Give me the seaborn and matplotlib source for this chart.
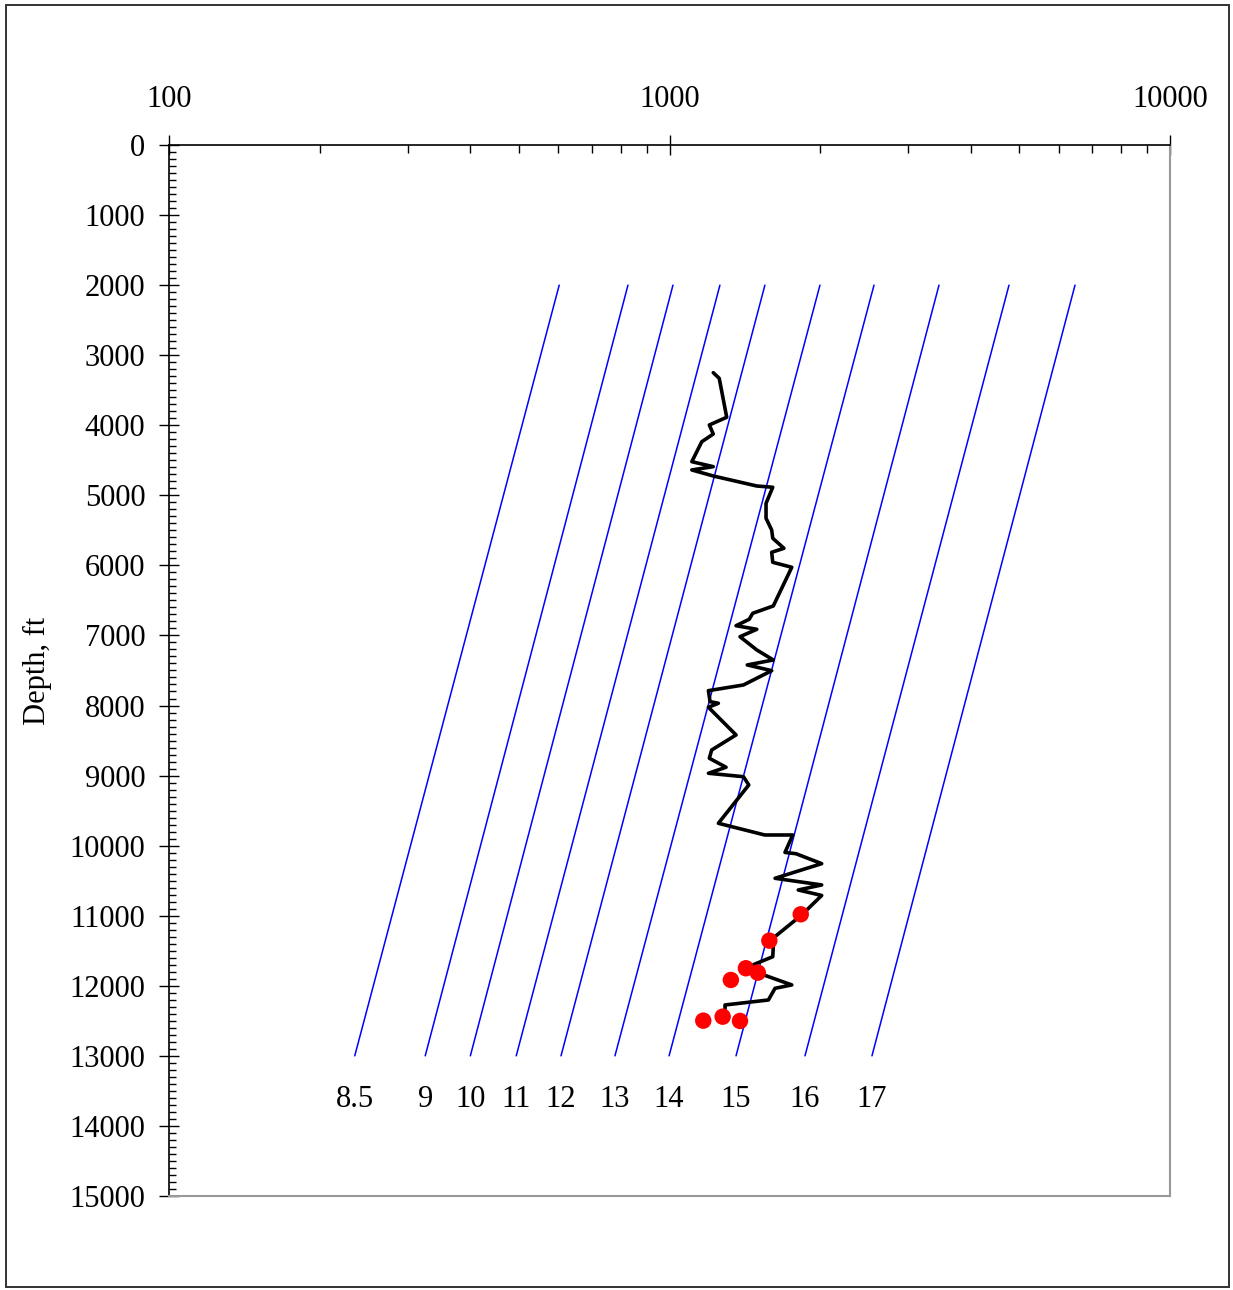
import numpy as np
import pandas as pd
import seaborn as sns
import matplotlib.pyplot as plt
from matplotlib.patches import Rectangle
from matplotlib.ticker import LogLocator, MultipleLocator, NullFormatter

# Log curve (value vs depth)
curve_value = [1223, 1257, 1301, 1201, 1223, 1160, 1108, 1223, 1108, 1223,
               1494, 1608, 1559, 1559, 1600, 1608, 1693, 1600, 1608, 1755,
               1612, 1466, 1443, 1358, 1494, 1383, 1494, 1612, 1430, 1600,
               1405, 1196, 1205, 1252, 1196, 1358, 1214, 1201, 1297, 1196,
               1405, 1440, 1252, 1550, 1763, 1701, 1789, 2014, 1625, 2014,
               1808, 2014, 1837, 1588, 1612, 1608, 1494, 1415, 1755, 1625,
               1576, 1291, 1291]
curve_depth = [3250, 3330, 3886, 3996, 4125, 4235, 4520, 4591, 4638, 4724,
               4867, 4885, 5114, 5328, 5495, 5613, 5756, 5813, 5956, 6027,
               6579, 6684, 6769, 6861, 6912, 7018, 7207, 7350, 7421, 7503,
               7707, 7788, 7945, 7968, 8025, 8420, 8635, 8753, 8881, 8967,
               9016, 9134, 9681, 9848, 9848, 10097, 10115, 10257, 10466, 10561,
               10633, 10711, 10989, 11356, 11442, 11585, 11679, 11750, 11988, 12036,
               12203, 12274, 12335]

# Measured points
pt_value = [1829, 1583, 1421, 1501, 1326, 1168, 1277, 1383]
pt_depth = [10980, 11356, 11750, 11813, 11917, 12498, 12441, 12502]

# Mud weight trend lines (value at 13000 ft and at 2000 ft)
mw_labels = ['8.5', '9', '10', '11', '12', '13', '14', '15', '16', '17']
mw_bottom = [235, 325, 400, 494, 607, 778, 998, 1358, 1865, 2538]
mw_top = [602, 826, 1016, 1261, 1551, 1998, 2562, 3455, 4768, 6460]
mw_depth_top = 2000
mw_depth_bottom = 13000
label_depth = 13620

curve_df = pd.DataFrame({'value': curve_value, 'depth': curve_depth})
pts_df = pd.DataFrame({'value': pt_value, 'depth': pt_depth})
mw_df = pd.DataFrame({
    'value': mw_top + mw_bottom,
    'depth': [mw_depth_top] * len(mw_top) + [mw_depth_bottom] * len(mw_bottom),
    'mw': mw_labels + mw_labels,
})

sns.set_theme(style='white')
plt.rcParams['font.family'] = ['Liberation Serif', 'DejaVu Serif']
plt.rcParams['font.size'] = 22
plt.rcParams['text.color'] = 'black'
plt.rcParams['axes.labelcolor'] = 'black'
plt.rcParams['xtick.color'] = 'black'
plt.rcParams['ytick.color'] = 'black'

fig = plt.figure(figsize=(12.33, 12.9), dpi=100)
ax = fig.add_axes([0.1371, 0.0729, 0.8118, 0.8147])
ax.set_xscale('log')

sns.lineplot(data=mw_df, x='value', y='depth', units='mw', estimator=None,
             sort=False, color='#0000ff', lw=1.1, ax=ax)
sns.lineplot(data=curve_df, x='value', y='depth', estimator=None, sort=False,
             color='black', lw=2.6, ax=ax)
sns.scatterplot(data=pts_df, x='value', y='depth', color='#ff0000', s=140,
                edgecolor='none', zorder=5, ax=ax)

for lab, v in zip(mw_labels, mw_bottom):
    ax.text(v, label_depth, lab, ha='center', va='center', fontsize=22, color='black')

ax.set_xlim(100, 10000)
ax.set_ylim(15000, 0)
ax.xaxis.tick_top()
ax.set_xticks([100, 1000, 10000])
ax.set_xticklabels(['100', '1000', '10000'])
ax.xaxis.set_minor_locator(LogLocator(base=10, subs=range(2, 10)))
ax.xaxis.set_minor_formatter(NullFormatter())
ax.yaxis.set_major_locator(MultipleLocator(1000))
ax.yaxis.set_minor_locator(MultipleLocator(100))
ax.set_yticklabels([str(int(t)) for t in ax.get_yticks()])

ax.tick_params(axis='x', which='major', direction='inout', length=14, width=1,
               color='black', labelcolor='black', top=True, bottom=False,
               labeltop=True, labelbottom=False, pad=15, labelsize=22)
ax.tick_params(axis='x', which='minor', direction='in', length=5.5, width=1,
               color='black', top=True, bottom=False)
ax.tick_params(axis='y', which='major', direction='inout', length=14, width=1,
               color='black', labelcolor='black', left=True, right=False,
               pad=10, labelsize=22)
ax.tick_params(axis='y', which='minor', direction='in', length=5, width=1,
               color='black', left=True, right=False)

for side in ['top', 'left']:
    ax.spines[side].set_color('black')
    ax.spines[side].set_linewidth(1.2)
for side in ['right', 'bottom']:
    ax.spines[side].set_color('#999999')
    ax.spines[side].set_linewidth(1.5)

ax.set_xlabel('')
ax.set_ylabel('Depth, ft', fontsize=22, color='black')
ax.yaxis.set_label_coords(-0.117, 0.5)

fig.patches.append(Rectangle((0.0045, 0.002), 0.9925, 0.994, transform=fig.transFigure,
                             fill=False, edgecolor='#333333', lw=1.4))

fig.savefig('out.png', dpi=100)
